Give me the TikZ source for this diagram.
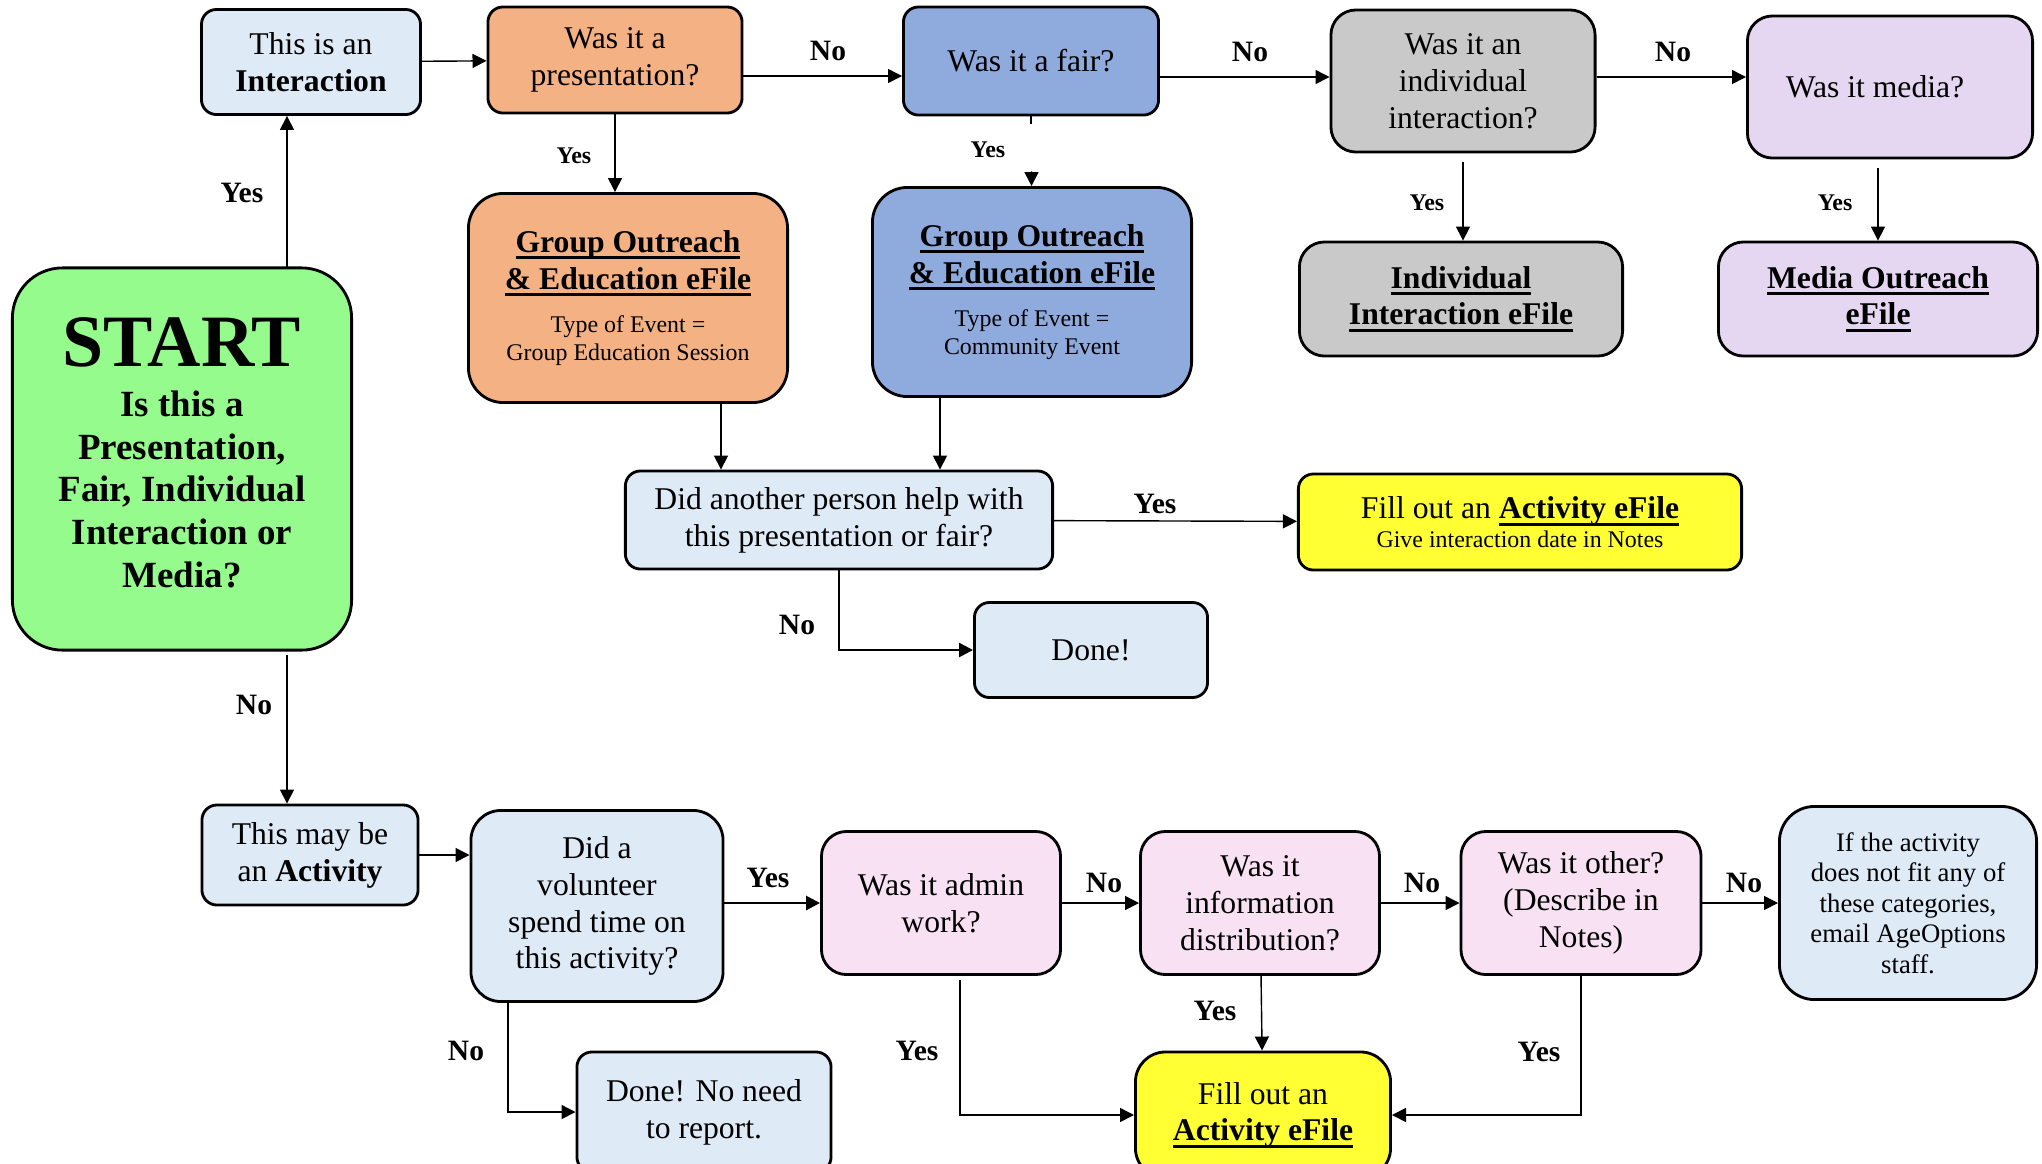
\documentclass[tikz,border=0pt]{standalone}
\usepackage{fontspec}
\setmainfont{Liberation Serif}
\usetikzlibrary{arrows.meta,positioning,calc}

\definecolor{paleblue}{HTML}{DEEAF6}
\definecolor{peach}{HTML}{F4B183}
\definecolor{cornflower}{HTML}{8FAADC}
\definecolor{greybox}{HTML}{C9C9C9}
\definecolor{lavender}{HTML}{E5D6F2}
\definecolor{blush}{HTML}{F8E1F3}
\definecolor{mint}{HTML}{94FB8C}
\definecolor{lemon}{HTML}{FFFF33}

\newcommand{\fsz}[2]{\fontsize{#1}{#2}\selectfont}
% bold title with a heavy underline
\newcommand{\efile}[1]{{\bfseries\setbox0\hbox{#1}\rlap{\rule[-2pt]{\wd0}{0.8pt}}\box0}}

\begin{document}
\begin{tikzpicture}[
    x=0.01cm, y=-0.01cm,
    every node/.style={font=\fsz{9}{10.5}},
    box/.style={rectangle, draw, line width=0.8pt, rounded corners=1.5mm, align=center, inner sep=1pt},
    plain/.style={box, fill=paleblue},
    present/.style={box, fill=peach},
    fairbox/.style={box, fill=cornflower},
    onebox/.style={box, fill=greybox, rounded corners=2.5mm},
    mediabox/.style={box, fill=lavender, rounded corners=2.5mm},
    activity/.style={box, fill=blush, rounded corners=2.5mm},
    fillbox/.style={box, fill=lemon},
    arr/.style={-{Triangle[length=1.4mm,width=1.4mm]}, line width=0.4pt},
    lbl/.style={font=\bfseries\fsz{8.4}{9}},
    lbls/.style={font=\bfseries\fsz{6.8}{7.5}},
]
    \useasboundingbox (0,0) rectangle (2042,1163);

    % Start
    \node[box, fill=mint, minimum width=3.39cm, minimum height=3.82cm, rounded corners=5mm,
          font=\bfseries\fsz{10.5}{12.2}] (start) at (182,459)
        {{\fsz{21}{24}START}\\[2pt] Is this a\\ Presentation,\\ Fair, Individual\\ Interaction or\\ Media?\\[-8.5pt]};

    % Row 1: interaction questions
    \node[plain, minimum width=2.19cm, minimum height=1.05cm] (interaction) at (311,62) {This is an\\\textbf{Interaction}};
    \node[present, minimum width=2.54cm, minimum height=1.06cm] (pres) at (615,60) {Was it a\\presentation?};
    \node[fairbox, minimum width=2.55cm, minimum height=1.08cm] (fair) at (1031,61) {Was it a fair?};
    \node[onebox, minimum width=2.64cm, minimum height=1.42cm] (indiv) at (1463,81) {Was it an\\individual\\interaction?};
    \node[mediabox, minimum width=2.85cm, minimum height=1.42cm] (media) at (1890,87) {Was it media?\hspace*{0.3cm}};

    % Row 2: eFiles
    \node[present, minimum width=3.19cm, minimum height=2.09cm, rounded corners=3.5mm] (goeOrange) at (628,298)
        {\efile{Group Outreach}\\\efile{\& Education eFile}\\[2pt]
         {\fsz{6.8}{7.7}Type of Event =}\\[-2.6pt]{\fsz{6.8}{7.7}Group Education Session}};
    \node[fairbox, minimum width=3.19cm, minimum height=2.09cm, rounded corners=3.5mm] (goeBlue) at (1032,292)
        {\efile{Group Outreach}\\\efile{\& Education eFile}\\[2pt]
         {\fsz{6.8}{7.7}Type of Event =}\\[-2.6pt]{\fsz{6.8}{7.7}Community Event}};
    \node[onebox, minimum width=3.23cm, minimum height=1.14cm] (indivFile) at (1461,299) {\efile{Individual}\\\efile{Interaction eFile}};
    \node[mediabox, minimum width=3.19cm, minimum height=1.14cm] (mediaFile) at (1878,299) {\efile{Media Outreach}\\\efile{eFile}};

    % Row 3: helpers
    \node[plain, minimum width=4.27cm, minimum height=0.98cm] (helper) at (839,520) {Did another person help with\\this presentation or fair?};
    \node[fillbox, minimum width=4.43cm, minimum height=0.96cm] (fillTop) at (1520,522)
        {Fill out an \efile{Activity eFile}\\[-2.4pt]{\fsz{6.8}{7.7}Give interaction date in Notes}};
    \node[plain, minimum width=2.33cm, minimum height=0.95cm] (done) at (1091,650) {Done!};

    % Row 4: activity questions
    \node[plain, minimum width=2.16cm, minimum height=1.00cm] (may) at (310,855) {This may be\\an \textbf{Activity}};
    \node[plain, minimum width=2.52cm, minimum height=1.91cm, rounded corners=3mm] (vol) at (597,906) {Did a\\volunteer\\spend time on\\this activity?};
    \node[activity, minimum width=2.39cm, minimum height=1.43cm] (admin) at (941,903) {Was it admin\\work?};
    \node[activity, minimum width=2.39cm, minimum height=1.43cm] (info) at (1260,903) {Was it\\information\\distribution?};
    \node[activity, minimum width=2.40cm, minimum height=1.43cm] (other) at (1581,903) {Was it other?\\(Describe in\\Notes)};
    \node[plain, minimum width=2.57cm, minimum height=1.93cm, rounded corners=3.5mm, font=\fsz{7.6}{8.7}] (ifnone) at (1908,903)
        {If the activity\\does not fit any of\\these categories,\\email AgeOptions\\staff.};

    % Row 5: endings (run off the page)
    \node[plain, minimum width=2.54cm, minimum height=1.20cm] (doneNoNeed) at (704,1112) {Done! No need\\to report.};
    \node[fillbox, minimum width=2.55cm, minimum height=1.26cm, rounded corners=3mm] (fillBot) at (1263,1115) {Fill out an\\\efile{Activity eFile}};

    % Drop points off centre
    \coordinate (sUp) at (287,268);
    \coordinate (sDown) at (287,652);
    \coordinate (pOut) at (742,76);
    \coordinate (fOut) at (1159,77);
    \coordinate (oDrop) at (721,402);
    \coordinate (bDrop) at (940,397);
    \coordinate (vDrop) at (508,1001);
    \coordinate (aDrop) at (960,974);

    % Edges
    \draw[arr] (sUp) -- (sUp |- interaction.south);
    \draw[arr] (interaction) -- (pres);
    \draw[arr] (pOut) -- (pOut -| fair.west);
    \draw[arr] (fOut) -- (fOut -| indiv.west);
    \draw[arr] (indiv.east |- fOut) -- (fOut -| media.west);
    \draw[arr] (pres.south) -- (pres.south |- goeOrange.north);
    \draw[line width=0.4pt] (fair.south) -- ++(0,8);
    \draw[arr, shorten <=0.55cm] (fair) -- (goeBlue);
    \draw[arr, shorten <=0.09cm] (indiv.south) -- (indiv.south |- indivFile.north);
    \draw[arr, shorten <=0.09cm] (mediaFile.north |- media.south) -- (mediaFile.north);
    \draw[arr] (oDrop) -- (oDrop |- helper.north);
    \draw[arr] (bDrop) -- (bDrop |- helper.north);
    \draw[arr] (helper) -- (fillTop);
    \draw[arr, line width=0.7pt] (helper.south) |- (done.west);

    \draw[arr, shorten <=0.03cm] (sDown) -- (sDown |- may.north);
    \draw[arr] (may.east) -- (may.east -| vol.west);
    \draw[arr, line width=0.8pt] (vol.east |- admin) -- (admin);
    \draw[arr] (vDrop) |- (doneNoNeed.west);
    \draw[arr] (admin) -- (info);
    \draw[arr] (info) -- (other);
    \draw[arr] (other) -- (ifnone);
    \draw[arr] (info) -- (fillBot);
    \draw[arr, shorten <=0.06cm] (aDrop) |- (fillBot.west);
    \draw[arr] (other.south) |- (fillBot.east);

    % Edge labels
    \node[lbl] (yStart) at (242,193) {Yes};
    \node[lbls] (yPres) at (574,156) {Yes};
    \node[lbl] (nPres) at (828,51) {No};
    \node[lbls] (yFair) at (988,150) {Yes};
    \node[lbl] (nFair) at (1250,52) {No};
    \node[lbl] (nIndiv) at (1673,52) {No};
    \node[lbls] (yIndiv) at (1427,203) {Yes};
    \node[lbls] (yMedia) at (1835,203) {Yes};
    \node[lbl] (yHelper) at (1155,504) {Yes};
    \node[lbl] (nHelper) at (797,625) {No};
    \node[lbl] (nStart) at (254,705) {No};
    \node[lbl] (yVol) at (768,878) {Yes};
    \node[lbl] (nVol) at (466,1051) {No};
    \node[lbl] (nAdmin) at (1104,883) {No};
    \node[lbl] (nInfo) at (1422,883) {No};
    \node[lbl] (nOther) at (1744,883) {No};
    \node[lbl] (yInfo) at (1215,1011) {Yes};
    \node[lbl] (yAdmin) at (917,1051) {Yes};
    \node[lbl] (yOther) at (1539,1052) {Yes};
\end{tikzpicture}
\end{document}
